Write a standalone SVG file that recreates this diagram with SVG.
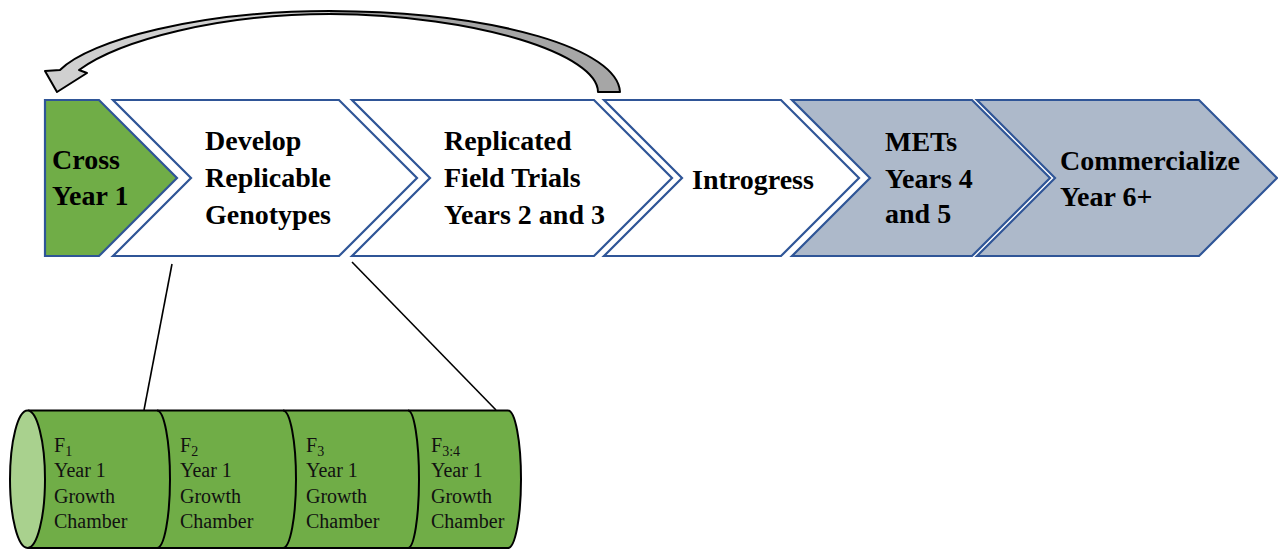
<svg xmlns="http://www.w3.org/2000/svg" width="1278" height="550" viewBox="0 0 1278 550">
<defs>
<style>
.chev{stroke:#2F5597;stroke-width:2.2;stroke-linejoin:miter}
.white{fill:#FFFFFF}
.green{fill:#70AD47}
.grey{fill:#ADB9CA}
.lbl{font-family:"Liberation Serif","Times New Roman",serif;font-weight:bold;font-size:28px;fill:#000}
.small{font-family:"Liberation Serif","Times New Roman",serif;font-size:20px;fill:#111}
.sub{font-size:14px}
.conn{stroke:#000;stroke-width:1.6;fill:none}
.cyl{stroke:#000;stroke-width:2;fill:none}
</style>
</defs>
<rect width="1278" height="550" fill="#FFFFFF"/>

<g id="feedback-arrow">
<path d="M 330 11 C 500 12, 618 50, 620 92 L 598 92 C 598 55, 480 15, 330 14 Z" fill="#A6A6A6"/>
<path d="M 330 11 C 200 11, 90 40, 60 70 L 45 71 L 57 92 L 87 73 L 79 70 C 120 40, 220 14, 330 14 Z" fill="#D0D0D0"/>
<path d="M 620 92 C 618 50, 500 12, 330 11 C 200 11, 90 40, 60 70 L 45 71 L 57 92 L 87 73 L 79 70 C 120 40, 220 14, 330 14 C 480 15, 598 55, 598 92 Z" fill="none" stroke="#000" stroke-width="2" stroke-linejoin="round"/>
</g>

<g id="node-cross">
<path class="chev green" d="M 45 100 L 99 100 L 177 178 L 99 256 L 45 256 Z"/>
<text class="lbl" x="52" y="169">Cross</text>
<text class="lbl" x="52" y="205">Year 1</text>
</g>

<g id="node-develop">
<path class="chev white" d="M 113 100 L 339 100 L 417 178 L 339 256 L 113 256 L 191 178 Z"/>
<text class="lbl" x="205" y="150">Develop</text>
<text class="lbl" x="205" y="187">Replicable</text>
<text class="lbl" x="205" y="224">Genotypes</text>
</g>

<g id="node-replicated">
<path class="chev white" d="M 352 100 L 594 100 L 672 178 L 594 256 L 352 256 L 430 178 Z"/>
<text class="lbl" x="444" y="150">Replicated</text>
<text class="lbl" x="444" y="187">Field Trials</text>
<text class="lbl" x="444" y="224">Years 2 and 3</text>
</g>

<g id="node-introgress">
<path class="chev white" d="M 604 100 L 781 100 L 859 178 L 781 256 L 604 256 L 682 178 Z"/>
<text class="lbl" x="692" y="189">Introgress</text>
</g>

<g id="node-mets">
<path class="chev grey" d="M 792 100 L 972 100 L 1050 178 L 972 256 L 792 256 L 870 178 Z"/>
<text class="lbl" x="885" y="151">METs</text>
<text class="lbl" x="885" y="188">Years 4</text>
<text class="lbl" x="885" y="223">and 5</text>
</g>

<g id="node-commercialize">
<path class="chev grey" d="M 977 100 L 1199 100 L 1277 178 L 1199 256 L 977 256 L 1055 178 Z"/>
<text class="lbl" x="1060" y="170">Commercialize</text>
<text class="lbl" x="1060" y="206">Year 6+</text>
</g>

<g id="connectors">
<line class="conn" x1="172" y1="264" x2="144" y2="410"/>
<line class="conn" x1="352" y1="262" x2="496" y2="410"/>
</g>

<g id="growth-cylinder">
<path d="M 28 410.5 L 508 410.5 A 13 68.75 0 0 1 508 548 L 28 548 Z" fill="#70AD47"/>
<path class="cyl" d="M 28 410.5 L 508 410.5 A 13 68.75 0 0 1 508 548 L 28 548"/>
<path class="cyl" d="M 157 410.5 A 13 68.75 0 0 1 157 548"/>
<path class="cyl" d="M 283 410.5 A 13 68.75 0 0 1 283 548"/>
<path class="cyl" d="M 408 410.5 A 11 68.75 0 0 1 408 548"/>
<ellipse cx="27.5" cy="479.25" rx="17.5" ry="68.75" fill="#A9D18E" stroke="#000" stroke-width="2"/>
</g>

<g id="node-f1">
<text class="small" x="54" y="452">F<tspan class="sub" dy="4">1</tspan></text>
<text class="small" x="54" y="477">Year 1</text>
<text class="small" x="54" y="502.5">Growth</text>
<text class="small" x="54" y="528">Chamber</text>
</g>
<g id="node-f2">
<text class="small" x="180" y="452">F<tspan class="sub" dy="4">2</tspan></text>
<text class="small" x="180" y="477">Year 1</text>
<text class="small" x="180" y="502.5">Growth</text>
<text class="small" x="180" y="528">Chamber</text>
</g>
<g id="node-f3">
<text class="small" x="306" y="452">F<tspan class="sub" dy="4">3</tspan></text>
<text class="small" x="306" y="477">Year 1</text>
<text class="small" x="306" y="502.5">Growth</text>
<text class="small" x="306" y="528">Chamber</text>
</g>
<g id="node-f34">
<text class="small" x="431" y="452">F<tspan class="sub" dy="4">3:4</tspan></text>
<text class="small" x="431" y="477">Year 1</text>
<text class="small" x="431" y="502.5">Growth</text>
<text class="small" x="431" y="528">Chamber</text>
</g>
</svg>
